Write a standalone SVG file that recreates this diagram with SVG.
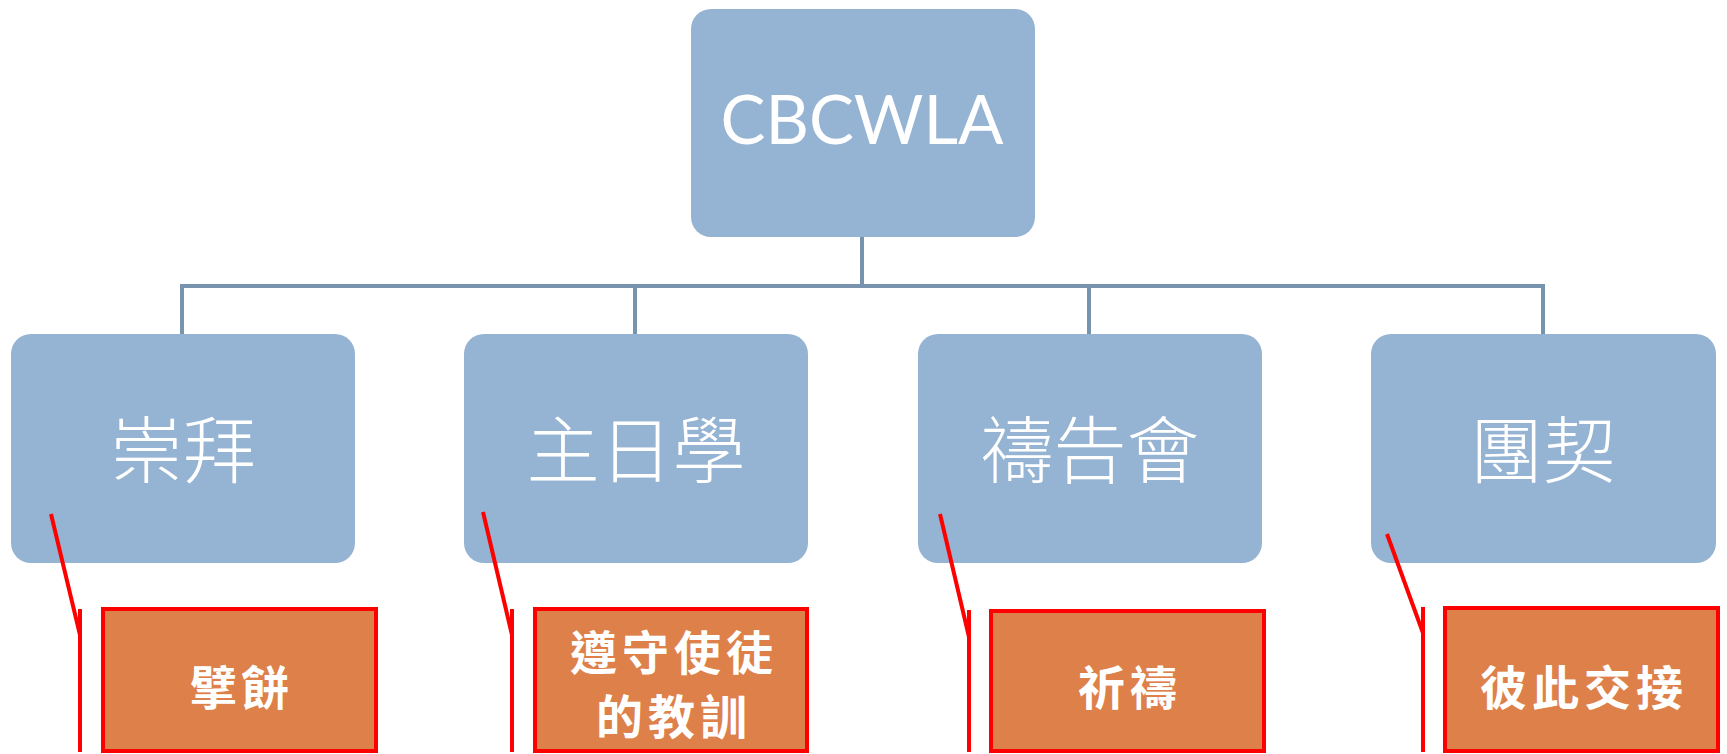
<svg xmlns="http://www.w3.org/2000/svg" width="1727" height="754" viewBox="0 0 1727 754">
<style>
.node{fill:#95B3D3;}
.lvl{fill:#fff;font-family:"Noto Sans CJK TC","Noto Sans CJK SC",sans-serif;font-weight:300;font-size:73px;text-anchor:middle;}
.top{fill:#fff;font-family:Lato,"Open Sans",sans-serif;font-size:68px;text-anchor:middle;}
.note{fill:#DE8049;stroke:#FF0000;stroke-width:4;}
.nt{fill:#fff;font-family:"Noto Sans CJK TC","Noto Sans CJK SC",sans-serif;font-weight:700;font-size:47px;text-anchor:middle;letter-spacing:5px;}
.conn{fill:none;stroke:#7893AE;stroke-width:4;}
.call{fill:none;stroke:#FF0000;stroke-width:4;}
</style>
<rect width="1727" height="754" fill="#fff"/>
<g id="connectors">
<path class="conn" d="M862 237V286M182 286H1543M182 284V334M635 286V334M1089 286V334M1543 284V334"/>
</g>
<g id="root"><rect class="node" x="691" y="9" width="344" height="228" rx="20"/><text class="top" x="862" y="144" textLength="283" lengthAdjust="spacingAndGlyphs">CBCWLA</text></g>
<g id="n1"><rect class="node" x="11" y="334" width="344" height="229" rx="20"/><text class="lvl" x="183" y="477">崇拜</text></g>
<g id="n2"><rect class="node" x="464" y="334" width="344" height="229" rx="20"/><text class="lvl" x="636" y="477">主日學</text></g>
<g id="n3"><rect class="node" x="918" y="334" width="344" height="229" rx="20"/><text class="lvl" x="1090" y="477">禱告會</text></g>
<g id="n4"><rect class="node" x="1371" y="334" width="345" height="229" rx="20"/><text class="lvl" x="1543" y="477">團契</text></g>
<g id="callouts">
<path class="call" d="M51 514L80 635M80 609V752"/>
<path class="call" d="M483 512L512 635M512 609V752"/>
<path class="call" d="M940 514L969 637M969 610V752"/>
<path class="call" d="M1387 534L1423 633M1423 607V752"/>
</g>
<g id="c1"><rect class="note" x="103" y="609" width="273" height="142"/><text class="nt" x="242" y="705">擘餅</text></g>
<g id="c2"><rect class="note" x="535" y="609" width="272" height="142"/><text class="nt" x="674" y="670">遵守使徒</text><text class="nt" x="674" y="734">的教訓</text></g>
<g id="c3"><rect class="note" x="991" y="611" width="273" height="140"/><text class="nt" x="1130" y="705">祈禱</text></g>
<g id="c4"><rect class="note" x="1445" y="608" width="273" height="143"/><text class="nt" x="1584" y="705">彼此交接</text></g>
</svg>
